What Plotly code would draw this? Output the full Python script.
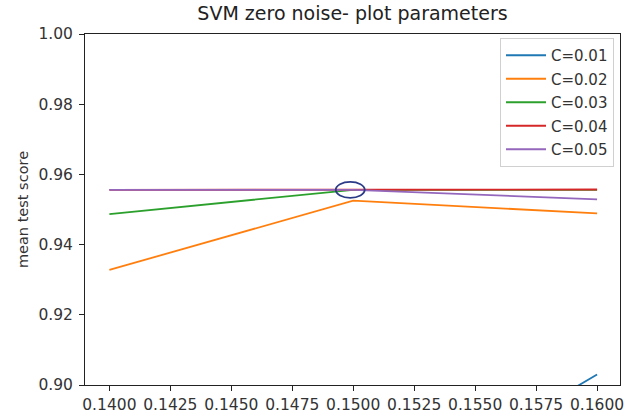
import plotly.graph_objects as go

# Data
x_vals = [0.14, 0.15, 0.16]
series_names = ["C=0.01", "C=0.02", "C=0.03", "C=0.04", "C=0.05"]
c001 = [0.860, 0.862, 0.903]
c002 = [0.9328, 0.9525, 0.9489]
c003 = [0.9487, 0.9556, 0.9556]
c004 = [0.9556, 0.9556, 0.9557]
c005 = [0.9556, 0.9556, 0.9529]
series_values = [c001, c002, c003, c004, c005]
colors = ["#1f77b4", "#ff7f0e", "#2ca02c", "#d62728", "#9467bd"]
x_ticks = [0.14, 0.1425, 0.145, 0.1475, 0.15, 0.1525, 0.155, 0.1575, 0.16]
y_ticks = [0.90, 0.92, 0.94, 0.96, 0.98, 1.00]

FONT = "DejaVu Sans"

fig = go.Figure()
for i, (name, vals, col) in enumerate(zip(series_names, series_values, colors)):
    fig.add_trace(go.Scatter(
        x=x_vals, y=vals, mode="lines", name=name,
        line=dict(color=col, width=1.8),
        legendgroup=f"g{i}",
    ))

# highlight ellipse around the best point (C=0.05 at 0.15)
fig.add_shape(
    type="circle", xref="x", yref="y",
    xsizemode="pixel", ysizemode="pixel",
    xanchor=x_vals[1], yanchor=c005[1],
    x0=-17.5, x1=11.5, y0=-8, y1=8,
    line=dict(color="#2b3a87", width=1.8),
    fillcolor="rgba(0,0,0,0)",
)

axis_common = dict(
    showgrid=False, zeroline=False, automargin=False,
    showline=True, linecolor="#222", linewidth=1, mirror=True,
    ticks="outside", ticklen=5, tickcolor="#222", tickwidth=1,
    tickfont=dict(family=FONT, size=15.5, color="#333"),
)

fig.update_layout(
    width=625, height=416,
    margin=dict(l=85, r=5, t=34, b=31),
    paper_bgcolor="white", plot_bgcolor="white",
    font=dict(family=FONT, color="#333"),
    title=dict(text="SVM zero noise- plot parameters", x=0.5, xref="paper",
               y=0.969, yref="container", yanchor="middle",
               font=dict(family=FONT, size=19, color="#222")),
    xaxis=dict(range=[0.139, 0.16094], tickvals=x_ticks, tickformat=".4f",
               **axis_common),
    yaxis=dict(range=[0.90, 1.00], tickvals=y_ticks, tickformat=".2f",
               ticklabelstandoff=3,
               title=dict(text="mean test score", standoff=6,
                          font=dict(family=FONT, size=14.5, color="#333")),
               **axis_common),
    legend=dict(x=0.9888, y=0.9886, xanchor="right", yanchor="top",
                bgcolor="white", bordercolor="#d0d0d0", borderwidth=1,
                font=dict(family=FONT, size=15, color="#333"),
                itemwidth=40, tracegroupgap=1, traceorder="grouped"),
    showlegend=True,
)

fig.write_html("out.html")
